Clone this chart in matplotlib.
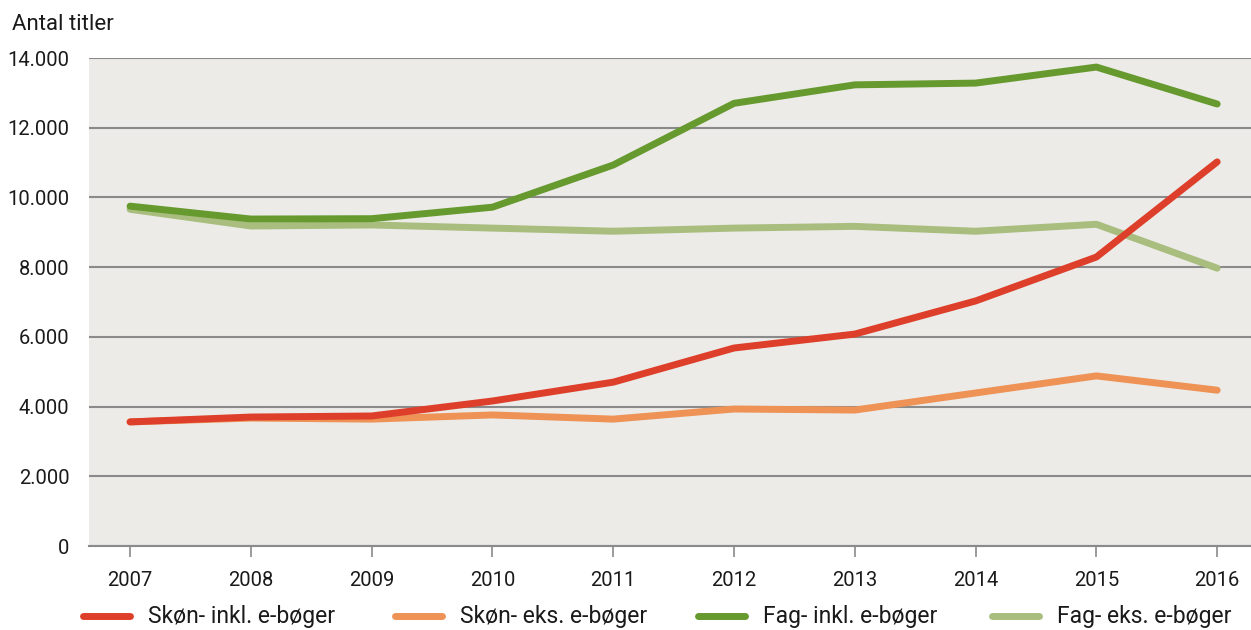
import matplotlib.pyplot as plt
from matplotlib.lines import Line2D
from matplotlib.ticker import FuncFormatter

plt.rcParams['font.family'] = ['Roboto', 'DejaVu Sans']

years = [2007, 2008, 2009, 2010, 2011, 2012, 2013, 2014, 2015, 2016]
skon_inkl = [3560, 3700, 3730, 4160, 4700, 5680, 6080, 7030, 8290, 11020]
skon_eks = [3560, 3670, 3640, 3760, 3640, 3930, 3900, 4390, 4880, 4470]
fag_inkl = [9750, 9380, 9390, 9720, 10930, 12700, 13230, 13280, 13740, 12680]
fag_eks = [9660, 9180, 9210, 9120, 9030, 9120, 9170, 9030, 9230, 7970]

series = [
    ('Skøn- inkl. e-bøger', skon_inkl, '#DE3F2A'),
    ('Skøn- eks. e-bøger', skon_eks, '#EE9255'),
    ('Fag- inkl. e-bøger', fag_inkl, '#66992E'),
    ('Fag- eks. e-bøger', fag_eks, '#A9BE7E'),
]

W, H = 1251, 630
fig = plt.figure(figsize=(W / 100, H / 100), dpi=100)
ax = fig.add_axes([89 / W, 1 - 546 / H, 1 - 89 / W, 488 / H])
ax.set_facecolor('#ECEBE8')

# light ones first so the strong lines sit on top
for i in [3, 1, 2, 0]:
    name, vals, col = series[i]
    ax.plot(years, vals, color=col, lw=5, solid_capstyle='round',
            solid_joinstyle='round', label=name, zorder=3)

ax.set_xlim(2006.66, 2016.28)
ax.set_ylim(0, 14000)
ax.set_xticks(years)
ax.set_yticks(range(0, 14001, 2000))
ax.yaxis.set_major_formatter(FuncFormatter(lambda v, p: f'{int(v):,}'.replace(',', '.')))
ax.grid(axis='y', color='#8A8A8A', lw=1.5, zorder=1)
for s in ['top', 'right', 'left']:
    ax.spines[s].set_visible(False)
ax.spines['bottom'].set_color('#8A8A8A')
ax.spines['bottom'].set_linewidth(1.5)
ax.tick_params(axis='y', length=0, pad=14, labelsize=14.5, colors='#1a1a1a')
ax.tick_params(axis='x', length=8, width=1.2, color='#8A8A8A', pad=10,
               labelsize=14.5, labelcolor='#1a1a1a')

fig.text(12 / W, 1 - 24 / H, 'Antal titler', fontsize=16, va='center',
         ha='left', color='#1a1a1a')

# legend, one entry at a time so the spacing follows the original
leg_x = [83, 395, 698, 992]
leg_y = 1 - 616 / H
for (name, vals, col), x0 in zip(series, leg_x):
    fig.add_artist(Line2D([x0 / W, (x0 + 47) / W], [leg_y, leg_y], color=col,
                          lw=5, solid_capstyle='round', transform=fig.transFigure))
    fig.text((x0 + 65) / W, leg_y, name, fontsize=16.5, va='center',
             ha='left', color='#1a1a1a')

fig.savefig('out.png', dpi=100)
